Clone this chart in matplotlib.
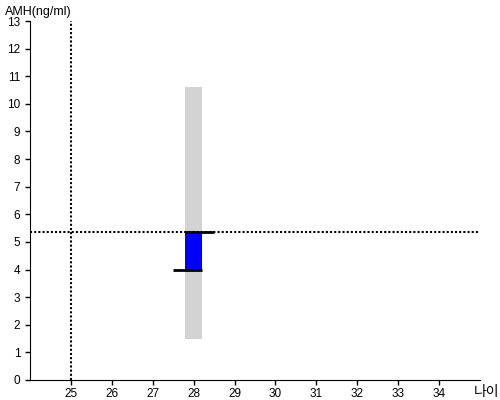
import matplotlib
matplotlib.use("Agg")
import matplotlib.pyplot as plt

plt.rcParams["font.family"] = ["Liberation Sans", "Noto Sans CJK KR", "DejaVu Sans"]

# data
x_ticks = list(range(25, 35))
y_ticks = list(range(0, 14))
age = 28
ref_low, ref_high = 1.5, 10.6      # grey reference range
amh_low, amh_high = 4.0, 5.35      # blue bar
ref_age = 25
bar_w = 0.4

fig = plt.figure(figsize=(5, 4), dpi=100)
ax = fig.add_axes([0.06, 0.05, 0.90, 0.8975])

ax.bar(age, ref_high - ref_low, bottom=ref_low, width=bar_w, color="#d3d3d3", zorder=1)
ax.bar(age, amh_high - amh_low, bottom=amh_low, width=bar_w, color="#0000ff", zorder=2)
ax.hlines(amh_high, age - bar_w / 2, age + 0.5, color="black", lw=2, zorder=3)
ax.hlines(amh_low, age - 0.5, age + bar_w / 2, color="black", lw=2, zorder=3)

ax.axhline(amh_high, color="black", ls=(0, (1, 1)), lw=1.5, zorder=2.5)
ax.axvline(ref_age, color="black", ls=(0, (1, 1)), lw=1.5, zorder=2.5)

ax.set_xlim(24, 35)
ax.set_ylim(0, 13)
ax.set_xticks(x_ticks)
ax.set_yticks(y_ticks)
ax.tick_params(labelsize=8.5, length=3.5, width=1)
ax.tick_params(axis="x", pad=2)
for s in ["top", "right"]:
    ax.spines[s].set_visible(False)

fig.text(0.01, 0.985, "AMH(ng/ml)", fontsize=9, va="top", ha="left")
fig.text(0.998, 0.02, "나이", fontsize=10, va="center", ha="right")

fig.savefig("out.png", dpi=100)
